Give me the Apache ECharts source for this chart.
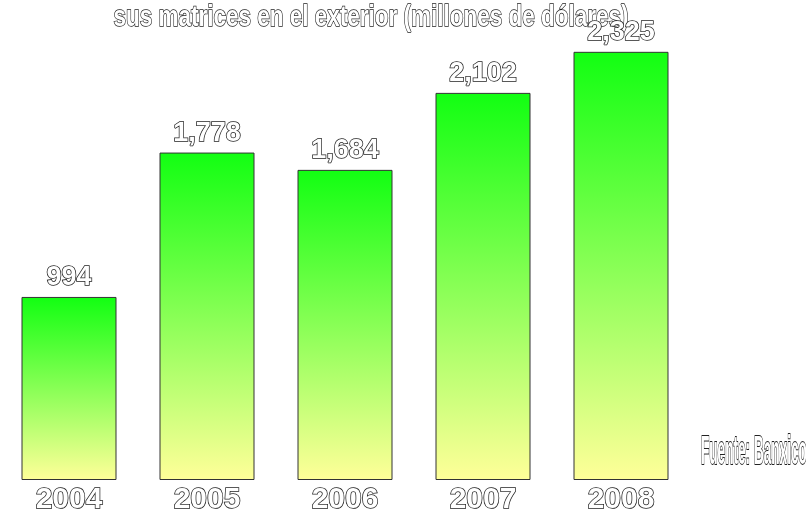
<!DOCTYPE html>
<html>
<head>
<meta charset="utf-8">
<script src="https://cdn.jsdelivr.net/npm/echarts@6/dist/echarts.min.js"></script>
<style>
  html, body { margin: 0; padding: 0; background: #fff; }
  #chart { width: 806px; height: 517px; }
</style>
</head>
<body>
<div id="chart"></div>
<script>
  // datos
  const years = ['2004', '2005', '2006', '2007', '2008']
  const values = [994, 1778, 1684, 2102, 2325]
  const titleText = 'sus matrices en el exterior (millones de dólares)'
  const sourceText = 'Fuente: Banxico'

  const font = '"Liberation Sans", Arial, sans-serif'
  // texto blanco con contorno oscuro
  const outlined = {
    color: '#fff',
    fontFamily: font,
    fontWeight: 'bold',
    textBorderColor: '#222',
    textBorderWidth: 1.5
  }

  const chart = echarts.init(document.getElementById('chart'))
  chart.setOption({
    animation: false,
    backgroundColor: '#fff',
    grid: { left: -10, width: 700, top: 38, bottom: 37 },
    xAxis: {
      type: 'category',
      data: years,
      axisLine: { show: false },
      axisTick: { show: false },
      axisLabel: Object.assign({ fontSize: 30, margin: 5 }, outlined)
    },
    yAxis: {
      type: 'value',
      min: 0,
      max: 2400,
      show: false,
      splitLine: { show: false }
    },
    series: [{
      type: 'bar',
      data: values,
      barWidth: 95,
      itemStyle: {
        borderColor: '#333',
        borderWidth: 1,
        color: new echarts.graphic.LinearGradient(0, 0, 0, 1, [
          { offset: 0, color: '#12ff12' },
          { offset: 1, color: '#ffff99' }
        ])
      },
      label: Object.assign({
        show: true,
        position: 'top',
        distance: 6,
        fontSize: 27,
        formatter: p => p.value.toLocaleString('en-US')
      }, outlined)
    }],
    graphic: [
      {
        type: 'text',
        x: 371,
        y: 3,
        scaleX: 0.75,
        style: {
          text: titleText, fontSize: 30, fontFamily: font, fontWeight: 'bold',
          fill: '#fff', stroke: '#222', lineWidth: 1.5, align: 'center', verticalAlign: 'top'
        }
      },
      {
        type: 'text',
        x: 701,
        y: 433,
        scaleX: 0.34,
        style: {
          text: sourceText, fontSize: 40, fontFamily: font, fontWeight: 'bold',
          fill: '#fff', stroke: '#222', lineWidth: 2, verticalAlign: 'top'
        }
      }
    ]
  })
</script>
</body>
</html>
